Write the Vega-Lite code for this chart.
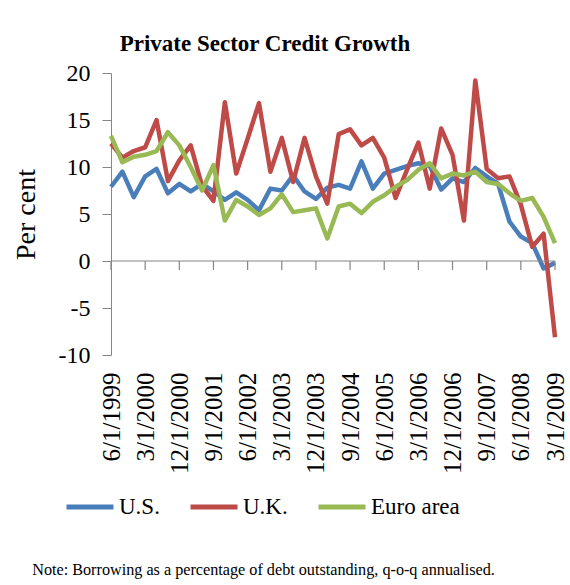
{
  "$schema": "https://vega.github.io/schema/vega-lite/v6.json",
  "width": 444,
  "height": 282,
  "autosize": {"type": "none"},
  "padding": {"left": 111, "top": 73, "right": 15, "bottom": 230},
  "background": "white",
  "config": {"view": {"stroke": null}, "font": "Liberation Serif"},
  "title": {"text": "Private Sector Credit Growth", "font": "Liberation Serif", "fontSize": 23, "fontWeight": "bold", "color": "black", "anchor": "middle", "frame": "group", "dx": -68, "offset": 5},
  "datasets": {
    "series": [
      {"date": "6/1/1999", "series": "U.S.", "value": 7.9},
      {"date": "9/1/1999", "series": "U.S.", "value": 9.5},
      {"date": "12/1/1999", "series": "U.S.", "value": 6.8},
      {"date": "3/1/2000", "series": "U.S.", "value": 9.0},
      {"date": "6/1/2000", "series": "U.S.", "value": 9.8},
      {"date": "9/1/2000", "series": "U.S.", "value": 7.2},
      {"date": "12/1/2000", "series": "U.S.", "value": 8.2},
      {"date": "3/1/2001", "series": "U.S.", "value": 7.4},
      {"date": "6/1/2001", "series": "U.S.", "value": 8.2},
      {"date": "9/1/2001", "series": "U.S.", "value": 7.4},
      {"date": "12/1/2001", "series": "U.S.", "value": 6.5},
      {"date": "3/1/2002", "series": "U.S.", "value": 7.3},
      {"date": "6/1/2002", "series": "U.S.", "value": 6.5},
      {"date": "9/1/2002", "series": "U.S.", "value": 5.4},
      {"date": "12/1/2002", "series": "U.S.", "value": 7.7},
      {"date": "3/1/2003", "series": "U.S.", "value": 7.5},
      {"date": "6/1/2003", "series": "U.S.", "value": 9.1},
      {"date": "9/1/2003", "series": "U.S.", "value": 7.4},
      {"date": "12/1/2003", "series": "U.S.", "value": 6.6},
      {"date": "3/1/2004", "series": "U.S.", "value": 7.8},
      {"date": "6/1/2004", "series": "U.S.", "value": 8.1},
      {"date": "9/1/2004", "series": "U.S.", "value": 7.7},
      {"date": "12/1/2004", "series": "U.S.", "value": 10.6},
      {"date": "3/1/2005", "series": "U.S.", "value": 7.7},
      {"date": "6/1/2005", "series": "U.S.", "value": 9.3},
      {"date": "9/1/2005", "series": "U.S.", "value": 9.7},
      {"date": "12/1/2005", "series": "U.S.", "value": 10.1},
      {"date": "3/1/2006", "series": "U.S.", "value": 10.4},
      {"date": "6/1/2006", "series": "U.S.", "value": 10.1},
      {"date": "9/1/2006", "series": "U.S.", "value": 7.6},
      {"date": "12/1/2006", "series": "U.S.", "value": 8.8},
      {"date": "3/1/2007", "series": "U.S.", "value": 8.4},
      {"date": "6/1/2007", "series": "U.S.", "value": 9.9},
      {"date": "9/1/2007", "series": "U.S.", "value": 9.0},
      {"date": "12/1/2007", "series": "U.S.", "value": 8.2},
      {"date": "3/1/2008", "series": "U.S.", "value": 4.2},
      {"date": "6/1/2008", "series": "U.S.", "value": 2.6},
      {"date": "9/1/2008", "series": "U.S.", "value": 1.9},
      {"date": "12/1/2008", "series": "U.S.", "value": -0.8},
      {"date": "3/1/2009", "series": "U.S.", "value": -0.2},
      {"date": "6/1/1999", "series": "U.K.", "value": 12.5},
      {"date": "9/1/1999", "series": "U.K.", "value": 11.0},
      {"date": "12/1/1999", "series": "U.K.", "value": 11.7},
      {"date": "3/1/2000", "series": "U.K.", "value": 12.1},
      {"date": "6/1/2000", "series": "U.K.", "value": 15.0},
      {"date": "9/1/2000", "series": "U.K.", "value": 8.5},
      {"date": "12/1/2000", "series": "U.K.", "value": 10.7},
      {"date": "3/1/2001", "series": "U.K.", "value": 12.3},
      {"date": "6/1/2001", "series": "U.K.", "value": 8.0},
      {"date": "9/1/2001", "series": "U.K.", "value": 6.4},
      {"date": "12/1/2001", "series": "U.K.", "value": 16.9},
      {"date": "3/1/2002", "series": "U.K.", "value": 9.3},
      {"date": "6/1/2002", "series": "U.K.", "value": 13.0},
      {"date": "9/1/2002", "series": "U.K.", "value": 16.8},
      {"date": "12/1/2002", "series": "U.K.", "value": 9.5},
      {"date": "3/1/2003", "series": "U.K.", "value": 13.1},
      {"date": "6/1/2003", "series": "U.K.", "value": 8.4},
      {"date": "9/1/2003", "series": "U.K.", "value": 13.1},
      {"date": "12/1/2003", "series": "U.K.", "value": 9.0},
      {"date": "3/1/2004", "series": "U.K.", "value": 6.1},
      {"date": "6/1/2004", "series": "U.K.", "value": 13.5},
      {"date": "9/1/2004", "series": "U.K.", "value": 14.0},
      {"date": "12/1/2004", "series": "U.K.", "value": 12.3},
      {"date": "3/1/2005", "series": "U.K.", "value": 13.1},
      {"date": "6/1/2005", "series": "U.K.", "value": 11.0},
      {"date": "9/1/2005", "series": "U.K.", "value": 6.7},
      {"date": "12/1/2005", "series": "U.K.", "value": 9.7},
      {"date": "3/1/2006", "series": "U.K.", "value": 12.6},
      {"date": "6/1/2006", "series": "U.K.", "value": 7.7},
      {"date": "9/1/2006", "series": "U.K.", "value": 14.1},
      {"date": "12/1/2006", "series": "U.K.", "value": 11.3},
      {"date": "3/1/2007", "series": "U.K.", "value": 4.3},
      {"date": "6/1/2007", "series": "U.K.", "value": 19.2},
      {"date": "9/1/2007", "series": "U.K.", "value": 9.8},
      {"date": "12/1/2007", "series": "U.K.", "value": 8.8},
      {"date": "3/1/2008", "series": "U.K.", "value": 9.0},
      {"date": "6/1/2008", "series": "U.K.", "value": 6.0},
      {"date": "9/1/2008", "series": "U.K.", "value": 1.5},
      {"date": "12/1/2008", "series": "U.K.", "value": 2.9},
      {"date": "3/1/2009", "series": "U.K.", "value": -8.1},
      {"date": "6/1/1999", "series": "Euro area", "value": 13.3},
      {"date": "9/1/1999", "series": "Euro area", "value": 10.5},
      {"date": "12/1/1999", "series": "Euro area", "value": 11.1},
      {"date": "3/1/2000", "series": "Euro area", "value": 11.3},
      {"date": "6/1/2000", "series": "Euro area", "value": 11.7},
      {"date": "9/1/2000", "series": "Euro area", "value": 13.7},
      {"date": "12/1/2000", "series": "Euro area", "value": 12.3},
      {"date": "3/1/2001", "series": "Euro area", "value": 10.0},
      {"date": "6/1/2001", "series": "Euro area", "value": 7.5},
      {"date": "9/1/2001", "series": "Euro area", "value": 10.2},
      {"date": "12/1/2001", "series": "Euro area", "value": 4.3},
      {"date": "3/1/2002", "series": "Euro area", "value": 6.5},
      {"date": "6/1/2002", "series": "Euro area", "value": 5.8},
      {"date": "9/1/2002", "series": "Euro area", "value": 4.9},
      {"date": "12/1/2002", "series": "Euro area", "value": 5.6},
      {"date": "3/1/2003", "series": "Euro area", "value": 7.1},
      {"date": "6/1/2003", "series": "Euro area", "value": 5.2},
      {"date": "9/1/2003", "series": "Euro area", "value": 5.4},
      {"date": "12/1/2003", "series": "Euro area", "value": 5.6},
      {"date": "3/1/2004", "series": "Euro area", "value": 2.4},
      {"date": "6/1/2004", "series": "Euro area", "value": 5.8},
      {"date": "9/1/2004", "series": "Euro area", "value": 6.1},
      {"date": "12/1/2004", "series": "Euro area", "value": 5.1},
      {"date": "3/1/2005", "series": "Euro area", "value": 6.3},
      {"date": "6/1/2005", "series": "Euro area", "value": 7.0},
      {"date": "9/1/2005", "series": "Euro area", "value": 7.9},
      {"date": "12/1/2005", "series": "Euro area", "value": 8.6},
      {"date": "3/1/2006", "series": "Euro area", "value": 9.7},
      {"date": "6/1/2006", "series": "Euro area", "value": 10.4},
      {"date": "9/1/2006", "series": "Euro area", "value": 8.8},
      {"date": "12/1/2006", "series": "Euro area", "value": 9.3},
      {"date": "3/1/2007", "series": "Euro area", "value": 9.1},
      {"date": "6/1/2007", "series": "Euro area", "value": 9.5},
      {"date": "9/1/2007", "series": "Euro area", "value": 8.4},
      {"date": "12/1/2007", "series": "Euro area", "value": 8.2},
      {"date": "3/1/2008", "series": "Euro area", "value": 7.2},
      {"date": "6/1/2008", "series": "Euro area", "value": 6.4},
      {"date": "9/1/2008", "series": "Euro area", "value": 6.7},
      {"date": "12/1/2008", "series": "Euro area", "value": 4.7},
      {"date": "3/1/2009", "series": "Euro area", "value": 1.9}
    ]
  },
  "layer": [
    {
      "data": {"name": "series"},
      "mark": {"type": "line", "strokeWidth": 4.5, "strokeJoin": "round"},
      "encoding": {
        "x": {
          "field": "date", "type": "ordinal", "sort": null,
          "scale": {"type": "point", "padding": 0},
          "axis": {
            "values": ["6/1/1999", "3/1/2000", "12/1/2000", "9/1/2001", "6/1/2002", "3/1/2003", "12/1/2003", "9/1/2004", "6/1/2005", "3/1/2006", "12/1/2006", "9/1/2007", "6/1/2008", "3/1/2009"],
            "title": "Note: Borrowing as a percentage of debt outstanding, q-o-q annualised.",
            "domain": false, "ticks": false, "labelAngle": -90,
            "labelFont": "Liberation Serif", "labelFontSize": 25, "labelColor": "black", "labelPadding": 17,
            "labelOverlap": false, "labelBound": false,
            "titleFont": "Liberation Serif", "titleFontSize": 16.2, "titleFontWeight": "normal", "titleColor": "black",
            "titleX": 152, "titleY": 214, "titleAlign": "center", "titleBaseline": "middle"
          }
        },
        "y": {
          "field": "value", "type": "quantitative",
          "scale": {"domain": [-10, 20], "nice": false, "zero": false},
          "axis": {
            "values": [-10, -5, 0, 5, 10, 15, 20], "labelExpr": "'' + datum.value",
            "title": "Per cent", "titleFont": "Liberation Serif", "titleFontSize": 28, "titleFontWeight": "normal", "titleColor": "black", "titlePadding": 18,
            "labelFont": "Liberation Serif", "labelFontSize": 24, "labelColor": "black", "labelPadding": 12,
            "tickSize": 9, "tickColor": "#868686", "domainColor": "#868686", "grid": false
          }
        },
        "color": {
          "field": "series", "type": "nominal",
          "scale": {"domain": ["U.S.", "U.K.", "Euro area"], "range": ["#4A7EBB", "#BE4B48", "#98B954"]},
          "legend": {
            "title": null, "orient": "none", "legendX": -47, "legendY": 408, "direction": "horizontal",
            "symbolType": "stroke", "symbolSize": 2209, "symbolStrokeWidth": 5,
            "labelFont": "Liberation Serif", "labelFontSize": 23, "labelColor": "black", "labelOffset": 3, "columnPadding": 20
          }
        }
      }
    },
    {
      "data": {"name": "series"},
      "transform": [{"filter": {"field": "date", "equal": "6/1/1999"}}, {"filter": {"field": "series", "equal": "U.S."}}],
      "mark": {"type": "rule", "color": "#868686", "strokeWidth": 1.2},
      "encoding": {"y": {"datum": 0}}
    },
    {
      "data": {"name": "series"},
      "transform": [
        {"filter": {"field": "series", "equal": "U.S."}},
        {"filter": {"field": "date", "oneOf": ["6/1/1999", "3/1/2000", "12/1/2000", "9/1/2001", "6/1/2002", "3/1/2003", "12/1/2003", "9/1/2004", "6/1/2005", "3/1/2006", "12/1/2006", "9/1/2007", "6/1/2008", "3/1/2009"]}}
      ],
      "mark": {"type": "rule", "color": "#868686", "strokeWidth": 1.2},
      "encoding": {
        "x": {"field": "date", "type": "ordinal", "sort": null},
        "y": {"datum": 0},
        "y2": {"datum": -0.95}
      }
    }
  ]
}
